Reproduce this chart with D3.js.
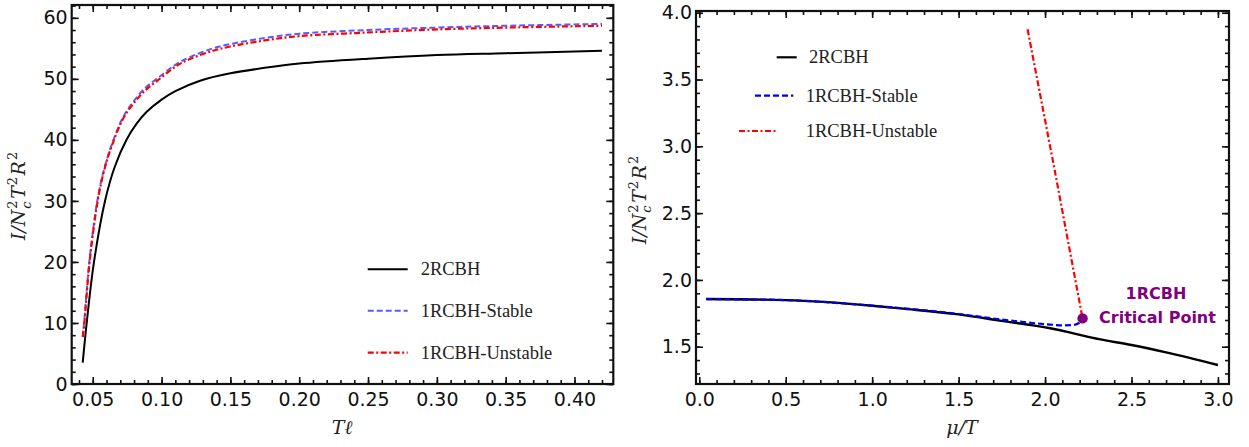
<!DOCTYPE html>
<html>
<head>
<meta charset="utf-8">
<script src="https://cdn.jsdelivr.net/npm/d3@7"></script>
<style>
  html, body { margin: 0; padding: 0; background: #fff; }
  svg { display: block; }
  .tick text { font-family: "DejaVu Sans", sans-serif; font-size: 19px; fill: #111; }
</style>
</head>
<body>
<svg id="chart" width="1249" height="447"></svg>
<script>
// ---- Left panel: I / Nc^2 T^2 R^2 versus T·ℓ ----
const leftBlackT = [0.0427, 0.0456, 0.0509, 0.0589, 0.0660, 0.0747, 0.0820, 0.0892, 0.100, 0.110, 0.128, 0.150, 0.175, 0.200, 0.250, 0.300, 0.350, 0.420];
const leftBlackI = [3.5, 10.0, 20.0, 30.0, 35.6, 40.1, 42.7, 44.6, 46.6, 48.0, 49.7, 50.9, 51.8, 52.5, 53.3, 53.9, 54.2, 54.6];

const leftStableT = [0.0427, 0.0437, 0.0475, 0.0533, 0.0580, 0.0638, 0.0722, 0.0800, 0.0880, 0.0965, 0.110, 0.120, 0.1374, 0.150, 0.175, 0.200, 0.250, 0.300, 0.350, 0.420];
const leftStableI = [7.8, 10.0, 20.0, 30.0, 35.0, 39.2, 43.8, 46.4, 48.5, 50.0, 52.3, 53.5, 55.0, 55.7, 56.7, 57.4, 58.0, 58.4, 58.7, 59.0];

const leftUnstableT = [0.0428, 0.0439, 0.0477, 0.0536, 0.0583, 0.0641, 0.0726, 0.0805, 0.0885, 0.0970, 0.110, 0.120, 0.1374, 0.150, 0.175, 0.200, 0.250, 0.300, 0.350, 0.420];
const leftUnstableI = [7.7, 10.0, 20.0, 30.0, 35.0, 39.2, 43.7, 46.2, 48.2, 49.7, 52.0, 53.2, 54.6, 55.3, 56.3, 57.0, 57.6, 58.1, 58.4, 58.7];

const leftXTicks = [0.05, 0.10, 0.15, 0.20, 0.25, 0.30, 0.35, 0.40];
const leftYTicks = [0, 10, 20, 30, 40, 50, 60];

// ---- Right panel: I / Nc^2 T^2 R^2 versus μ/T ----
const rightBlackMu = [0.04, 0.5, 1.0, 1.16, 1.5, 1.74, 2.03, 2.32, 2.5, 2.7, 3.0];
const rightBlackI  = [1.857, 1.849, 1.807, 1.787, 1.742, 1.695, 1.638, 1.555, 1.513, 1.458, 1.363];

const rightStableMu = [0.04, 0.5, 1.0, 1.16, 1.5, 1.74, 2.03, 2.10, 2.16, 2.20, 2.217];
const rightStableI  = [1.857, 1.849, 1.807, 1.790, 1.745, 1.705, 1.666, 1.660, 1.662, 1.680, 1.712];

const rightUnstableMu = [1.899, 2.052, 2.217];
const rightUnstableI  = [3.876, 2.847, 1.712];

const criticalMu = 2.217, criticalI = 1.712;

const rightXTicks = [0.0, 0.5, 1.0, 1.5, 2.0, 2.5, 3.0];
const rightYTicks = [1.5, 2.0, 2.5, 3.0, 3.5, 4.0];

const seriesNames = ["2RCBH", "1RCBH-Stable", "1RCBH-Unstable"];

// ---- drawing ----
const svg = d3.select("#chart");

const styles = {
  black:   { stroke: "#000", width: 2, dash: null },
  stableL: { stroke: "#5a5aff", width: 2, dash: "6,3" },
  stableR: { stroke: "#0000e6", width: 2.2, dash: "6,3" },
  red:     { stroke: "#ff0000", width: 2.2, dash: "6,2.5,2,2.5" }
};

function range(a, b, step) {
  const out = [];
  for (let v = a; v <= b + step * 1e-6; v += step) out.push(+v.toFixed(6));
  return out;
}

function frame(g, x, y, xMajor, xMinor, yMajor, yMinor, xFmt, yFmt) {
  const [x0, x1] = x.range();
  const [y0, y1] = y.range(); // y0 bottom, y1 top
  const major = 7, minor = 4;

  // bottom (with labels)
  g.append("g").attr("transform", `translate(0,${y0})`)
    .call(d3.axisBottom(x).tickValues(xMinor).tickSize(-minor).tickSizeOuter(0).tickFormat(""));
  g.append("g").attr("transform", `translate(0,${y0})`)
    .call(d3.axisBottom(x).tickValues(xMajor).tickSize(-major).tickSizeOuter(0).tickPadding(8.5).tickFormat(xFmt));
  // top mirror
  g.append("g").attr("transform", `translate(0,${y1})`)
    .call(d3.axisTop(x).tickValues(xMinor).tickSize(-minor).tickSizeOuter(0).tickFormat(""));
  g.append("g").attr("transform", `translate(0,${y1})`)
    .call(d3.axisTop(x).tickValues(xMajor).tickSize(-major).tickSizeOuter(0).tickFormat(""));
  // left (with labels)
  g.append("g").attr("transform", `translate(${x0},0)`)
    .call(d3.axisLeft(y).tickValues(yMinor).tickSize(-minor).tickSizeOuter(0).tickFormat(""));
  g.append("g").attr("transform", `translate(${x0},0)`)
    .call(d3.axisLeft(y).tickValues(yMajor).tickSize(-major).tickSizeOuter(0).tickPadding(4).tickFormat(yFmt));
  // right mirror
  g.append("g").attr("transform", `translate(${x1},0)`)
    .call(d3.axisRight(y).tickValues(yMinor).tickSize(-minor).tickSizeOuter(0).tickFormat(""));
  g.append("g").attr("transform", `translate(${x1},0)`)
    .call(d3.axisRight(y).tickValues(yMajor).tickSize(-major).tickSizeOuter(0).tickFormat(""));

  g.selectAll(".domain").remove();
  g.selectAll(".tick line").attr("stroke", "#111").attr("stroke-width", 1.6);

  g.append("rect")
    .attr("x", x0).attr("y", y1)
    .attr("width", x1 - x0).attr("height", y0 - y1)
    .attr("fill", "none").attr("stroke", "#111").attr("stroke-width", 2.2);
}

function drawLine(g, xs, ys, x, y, st, curve) {
  const pts = xs.map((v, i) => [v, ys[i]]);
  const line = d3.line().x(d => x(d[0])).y(d => y(d[1])).curve(curve || d3.curveMonotoneX);
  g.append("path").datum(pts)
    .attr("d", line)
    .attr("fill", "none")
    .attr("stroke", st.stroke)
    .attr("stroke-width", st.width)
    .attr("stroke-dasharray", st.dash)
    .attr("stroke-linejoin", "round");
}

// Math-style label: base glyphs with superscripts, optionally stacked subscripts
function mathLabel(textSel, tokens, fs) {
  let cur = 0, pendingDx = 0;
  const small = Math.round(fs * 0.68);
  tokens.forEach(tok => {
    if (typeof tok === "string") {
      textSel.append("tspan")
        .attr("dy", -cur).attr("dx", pendingDx)
        .attr("font-size", fs).text(tok);
      cur = 0; pendingDx = 0;
    } else {
      const supOff = -0.42 * fs, subOff = 0.3 * fs;
      const s = textSel.append("tspan")
        .attr("dy", supOff - cur).attr("dx", 1)
        .attr("font-size", small).attr("font-style", "normal").text(tok.sup);
      cur = supOff;
      const w = s.node().getComputedTextLength();
      if (tok.sub) {
        const b = textSel.append("tspan")
          .attr("dx", -w).attr("dy", subOff - cur)
          .attr("font-size", small).text(tok.sub);
        cur = subOff;
        const wb = b.node().getComputedTextLength();
        pendingDx = Math.max(0, w - wb) + 1.5;
      } else {
        pendingDx = 1.5;
      }
    }
  });
}

const yTokens = ["I/N", { sup: "2", sub: "c" }, "T", { sup: "2" }, "R", { sup: "2" }];

function yTitle(g, cx, cy) {
  const t = g.append("text")
    .attr("transform", `translate(${cx},${cy}) rotate(-90)`)
    .attr("text-anchor", "middle")
    .attr("font-family", "DejaVu Serif, serif")
    .attr("font-style", "italic")
    .attr("fill", "#222");
  mathLabel(t, yTokens, 19);
}

function legend(g, rows) {
  rows.forEach(r => {
    g.append("line")
      .attr("x1", r.x1).attr("x2", r.x2).attr("y1", r.y).attr("y2", r.y)
      .attr("stroke", r.st.stroke).attr("stroke-width", r.st.width)
      .attr("stroke-dasharray", r.st.dash);
    g.append("text")
      .attr("x", r.tx).attr("y", r.y + 6)
      .attr("font-family", "Liberation Serif, serif")
      .attr("font-size", 18.5)
      .attr("fill", "#222")
      .text(r.label);
  });
}

// ---------- Left panel ----------
{
  const g = svg.append("g");
  const x = d3.scaleLinear().domain([0.0347, 0.4282]).range([71.7, 613.3]);
  const y = d3.scaleLinear().domain([0, 62.1]).range([384, 5]);

  drawLine(g, leftBlackT, leftBlackI, x, y, styles.black, d3.curveCatmullRom.alpha(0.5));
  drawLine(g, leftStableT, leftStableI, x, y, styles.stableL, d3.curveCatmullRom.alpha(0.5));
  drawLine(g, leftUnstableT, leftUnstableI, x, y, styles.red, d3.curveCatmullRom.alpha(0.5));

  frame(g, x, y, leftXTicks, range(0.04, 0.42, 0.01), leftYTicks, range(0, 62, 2),
        d3.format(".2f"), d3.format("d"));

  legend(g, [
    { label: seriesNames[0], st: styles.black,   x1: 367.7, x2: 407.7, y: 269.3, tx: 420.7 },
    { label: seriesNames[1], st: styles.stableL, x1: 367.7, x2: 407.7, y: 310.7, tx: 420.7 },
    { label: seriesNames[2], st: styles.red,     x1: 367.7, x2: 407.7, y: 352.7, tx: 420.7 }
  ]);

  yTitle(g, 25, 196);
  g.append("text")
    .attr("x", 342).attr("y", 434)
    .attr("text-anchor", "middle")
    .attr("font-family", "DejaVu Serif, serif")
    .attr("font-style", "italic")
    .attr("font-size", 19)
    .attr("fill", "#222")
    .text("Tℓ");
}

// ---------- Right panel ----------
{
  const g = svg.append("g");
  const x = d3.scaleLinear().domain([-0.019, 3.064]).range([696, 1229]);
  const y = d3.scaleLinear().domain([1.221, 4.013]).range([384, 11]);

  drawLine(g, rightBlackMu, rightBlackI, x, y, { stroke: "#000", width: 2.4, dash: null }, d3.curveMonotoneX);
  drawLine(g, rightStableMu, rightStableI, x, y, styles.stableR, d3.curveMonotoneX);
  drawLine(g, rightUnstableMu, rightUnstableI, x, y, styles.red, d3.curveLinear);

  g.append("circle")
    .attr("cx", x(criticalMu)).attr("cy", y(criticalI)).attr("r", 5.2)
    .attr("fill", "#800080");

  g.append("text")
    .attr("x", 1156).attr("y", 298.5)
    .attr("text-anchor", "middle")
    .attr("font-family", "DejaVu Sans, sans-serif")
    .attr("font-weight", "bold").attr("font-size", 16)
    .attr("fill", "#800080")
    .text("1RCBH");
  g.append("text")
    .attr("x", 1157.5).attr("y", 322.5)
    .attr("text-anchor", "middle")
    .attr("font-family", "DejaVu Sans, sans-serif")
    .attr("font-weight", "bold").attr("font-size", 16)
    .attr("fill", "#800080")
    .text("Critical Point");

  frame(g, x, y, rightXTicks, range(0, 3.0, 0.1), rightYTicks, range(1.3, 4.0, 0.1),
        d3.format(".1f"), d3.format(".1f"));

  legend(g, [
    { label: seriesNames[0], st: { stroke: "#000", width: 2.2, dash: null }, x1: 776.7, x2: 796.7, y: 57.3, tx: 809 },
    { label: seriesNames[1], st: styles.stableR, x1: 755, x2: 793.3, y: 95.7, tx: 805.7 },
    { label: seriesNames[2], st: styles.red,     x1: 739, x2: 776.7, y: 131,  tx: 805.7 }
  ]);

  yTitle(g, 645.5, 200);
  g.append("text")
    .attr("x", 962).attr("y", 434)
    .attr("text-anchor", "middle")
    .attr("font-family", "DejaVu Serif, serif")
    .attr("font-style", "italic")
    .attr("font-size", 19)
    .attr("fill", "#222")
    .text("μ/T");
}
</script>
</body>
</html>
